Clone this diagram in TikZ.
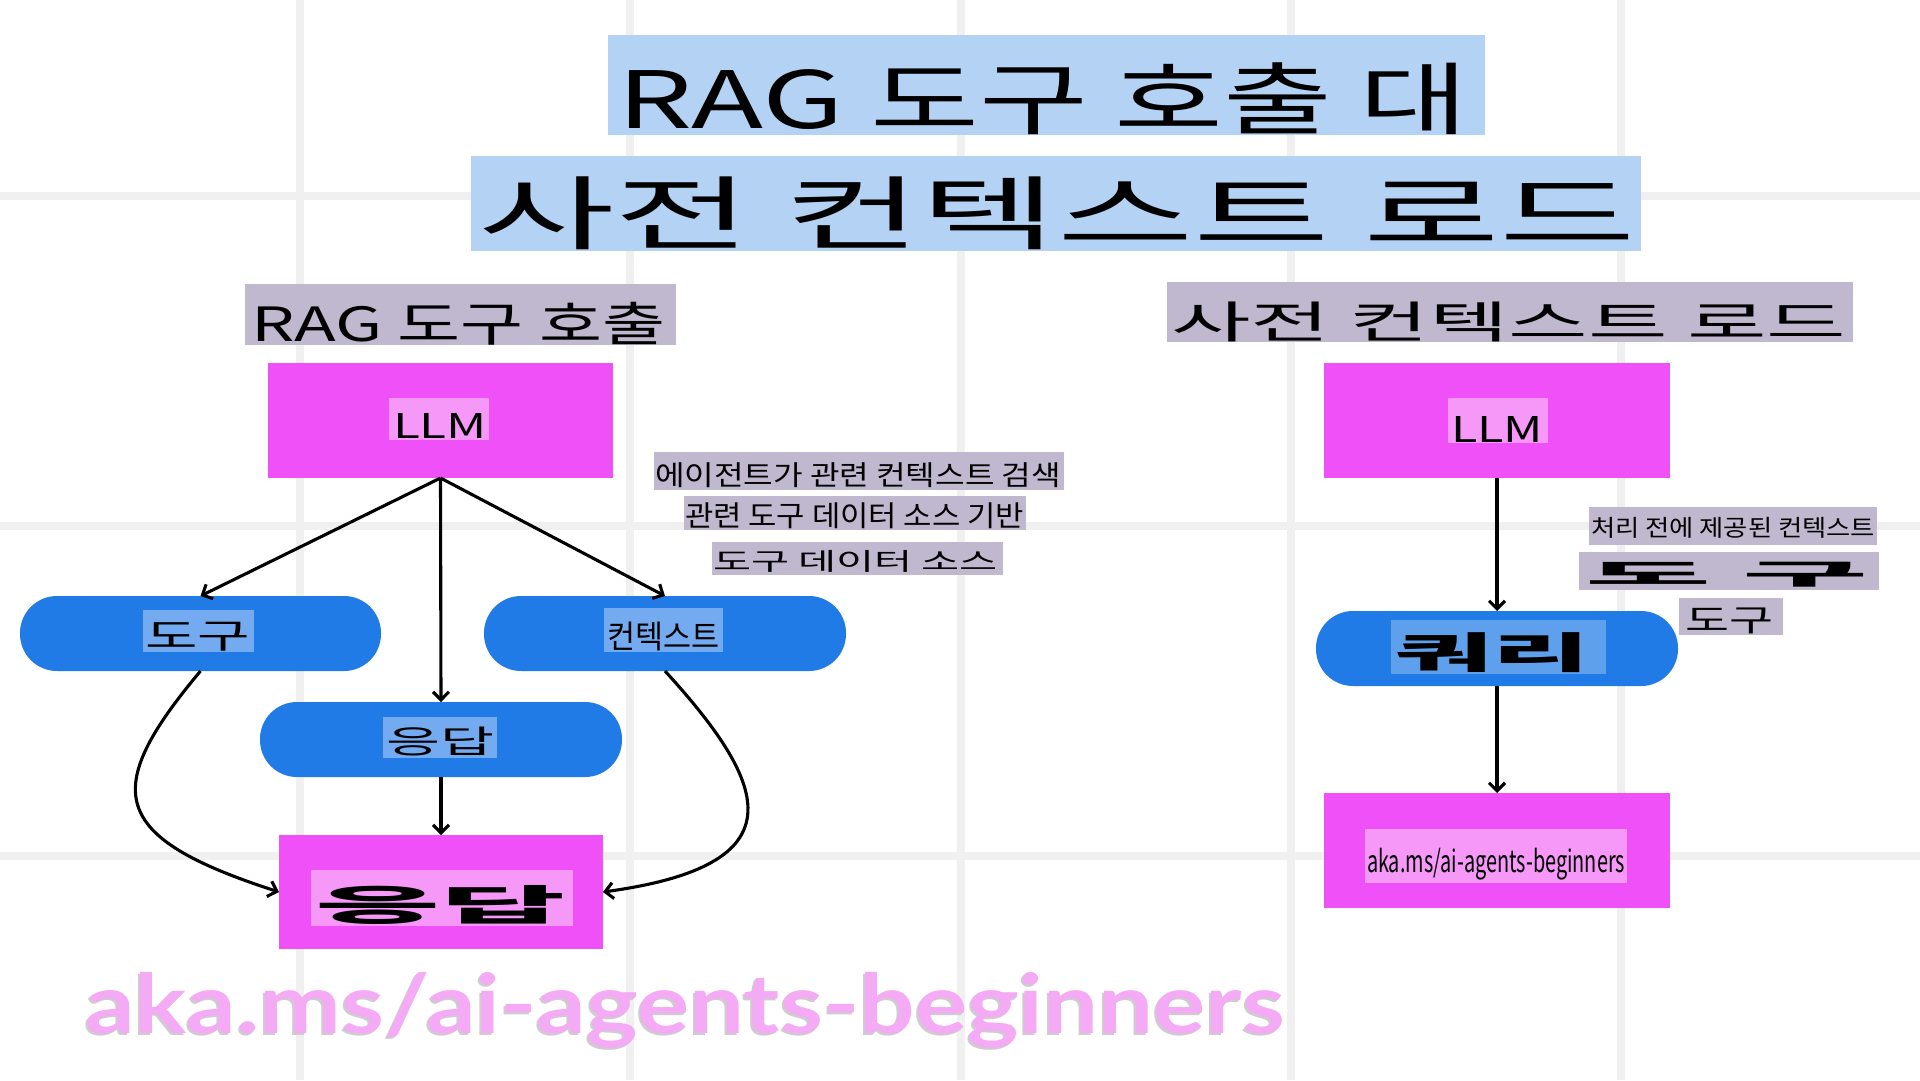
\documentclass[tikz,border=0pt]{standalone}
\usepackage{graphicx}
\usepackage{fontspec}
\setmainfont{Noto Sans CJK KR}
\newfontfamily\footfont{Lato}
\usetikzlibrary{fit,arrows.meta}
\definecolor{gridc}{RGB}{240,240,240}
\definecolor{magc}{RGB}{240,80,247}
\definecolor{pinkc}{RGB}{245,152,248}
\definecolor{bluec}{RGB}{33,123,230}
\definecolor{lbluec}{RGB}{115,170,240}
\definecolor{qbluec}{RGB}{94,160,236}
\definecolor{titlec}{RGB}{180,210,243}
\definecolor{grayp}{RGB}{191,184,206}
\definecolor{footc}{RGB}{245,170,245}
\definecolor{shadc}{RGB}{205,205,205}
\tikzset{
  gridline/.style={gridc, line width=8pt},
  bx/.style={inner sep=0pt, outer sep=0pt},
  magbox/.style={bx, fill=magc},
  pill/.style={bx, fill=bluec, rounded corners=37pt},
  bgbox/.style={bx},
  txt/.style={inner sep=0pt, outer sep=0pt, anchor=south west},
  arr/.style={line width=3.1pt, -{Straight Barb[length=8pt,width=16pt]}}
}
\begin{document}
\begin{tikzpicture}[x=1pt,y=-1pt]
\useasboundingbox (0,0) rectangle (1920,1080);
\fill[white] (0,0) rectangle (1920,1080);
% grid
\foreach \gx in {300,630,961,1291,1621} \draw[gridline] (\gx,0) -- (\gx,1080);
\foreach \gy in {196,526,856} \draw[gridline] (0,\gy) -- (1920,\gy);

% titles
\node[bgbox, fill=titlec, fit={(608,35)(1485,135)}] (t1bg) {};
\node[txt] (t1) at (617,135) {\resizebox*{851pt}{72pt}{RAG 도구 호출 대}};
\node[bgbox, fill=titlec, fit={(471,156)(1641,251)}] (t2bg) {};
\node[txt] (t2) at (478,250) {\resizebox*{1157pt}{73pt}{사전 컨텍스트 로드}};

% subtitles
\node[bgbox, fill=grayp, fit={(245,284)(676,345)}] (slbg) {};
\node[txt] (sl) at (251,345) {\resizebox*{414pt}{43pt}{RAG 도구 호출}};
\node[bgbox, fill=grayp, fit={(1167,282)(1853,342)}] (srbg) {};
\node[txt] (sr) at (1171,342) {\resizebox*{675pt}{40pt}{사전 컨텍스트 로드}};

% left flow boxes
\node[magbox, fit={(268,363)(613,478)}] (llmL) {};
\node[bgbox, fill=pinkc, fit={(389,398)(489,440)}] (llmLbg) {};
\node[txt] (llmLt) at (393,438) {\resizebox*{94pt}{25pt}{LLM}};

\node[pill, fit={(20,596)(381,671)}] (toolP) {};
\node[bgbox, fill=lbluec, fit={(143,610)(254,652)}] (toolPbg) {};
\node[txt] (toolPt) at (145,651) {\resizebox*{105pt}{29pt}{도구}};

\node[pill, fit={(484,596)(846,671)}] (ctxP) {};
\node[bgbox, fill=lbluec, fit={(604,608)(723,652)}] (ctxPbg) {};
\node[txt] (ctxPt) at (607,651) {\resizebox*{112pt}{29pt}{컨텍스트}};

\node[pill, fit={(260,702)(622,777)}] (respP) {};
\node[bgbox, fill=lbluec, fit={(383,717)(497,758)}] (respPbg) {};
\node[txt] (respPt) at (386,756) {\resizebox*{108pt}{29pt}{응답}};

\node[magbox, fit={(279,835)(603,949)}] (respM) {};
\node[bgbox, fill=pinkc, fit={(311,870)(573,926)}] (respMbg) {};
\node[txt] (respMt) at (315,924) {\resizebox*{250pt}{39pt}{\bfseries 응답}};

% middle labels
\node[bgbox, fill=grayp, fit={(654,452)(1064,490)}] (m1bg) {};
\node[txt] (m1) at (655,488) {\resizebox*{406pt}{25pt}{에이전트가 관련 컨텍스트 검색}};
\node[bgbox, fill=grayp, fit={(684,496)(1026,530)}] (m2bg) {};
\node[txt] (m2) at (685,529) {\resizebox*{339pt}{26pt}{관련 도구 데이터 소스 기반}};
\node[bgbox, fill=grayp, fit={(712,542)(1003,575)}] (m3bg) {};
\node[txt] (m3) at (713,572) {\resizebox*{285pt}{22pt}{도구 데이터 소스}};

% right flow
\node[magbox, fit={(1324,363)(1670,478)}] (llmR) {};
\node[bgbox, fill=pinkc, fit={(1448,398)(1548,443)}] (llmRbg) {};
\node[txt] (llmRt) at (1451,442) {\resizebox*{92pt}{26pt}{LLM}};

\node[pill, fit={(1316,611)(1678,686)}] (queryP) {};
\node[bgbox, fill=qbluec, fit={(1391,620)(1606,674)}] (queryPbg) {};
\node[txt] (queryPt) at (1395,673) {\resizebox*{195pt}{40pt}{\bfseries 쿼리}};

\node[magbox, fit={(1324,793)(1670,908)}] (akaM) {};
\node[bgbox, fill=pinkc, fit={(1365,829)(1627,883)}] (akaMbg) {};
\node[txt] (akaMt) at (1367,880) {\resizebox*{258pt}{32pt}{aka.ms/ai-agents-beginners}};

% right labels
\node[bgbox, fill=grayp, fit={(1589,507)(1877,545)}] (r1bg) {};
\node[txt] (r1) at (1591,538) {\resizebox*{284pt}{21pt}{처리 전에 제공된 컨텍스트}};
\node[bgbox, fill=grayp, fit={(1579,552)(1879,590)}] (r2bg) {};
\node[txt] (r2) at (1585,587) {\resizebox*{283pt}{25pt}{\bfseries 도 구}};
\node[bgbox, fill=grayp, fit={(1679,598)(1783,635)}] (r3bg) {};
\node[txt] (r3) at (1685,634) {\resizebox*{88pt}{26pt}{도구}};

% connectors
\draw[arr] (llmL.south) -- (toolP.north);
\draw[arr] (llmL.south) -- (respP.north);
\draw[arr] (llmL.south) -- (ctxP.north);
\draw[arr] (respP.south) -- (respM.north);
\draw[arr] (toolP.south) .. controls (100,791) and (109,837) .. (respM.west);
\draw[arr] (ctxP.south) .. controls (770,786) and (800,865) .. (respM.east);
\draw[arr] (llmR.south) -- (queryP.north);
\draw[arr] (queryP.south) -- (akaM.north);

% footer
\node[txt, text=shadc] (footsh) at (83,1050) {\resizebox*{1199pt}{76pt}{\footfont\bfseries aka.ms/ai-agents-beginners}};
\node[txt, text=footc] (foot) at (85,1048) {\resizebox*{1199pt}{76pt}{\footfont\bfseries aka.ms/ai-agents-beginners}};
\end{tikzpicture}
\end{document}
